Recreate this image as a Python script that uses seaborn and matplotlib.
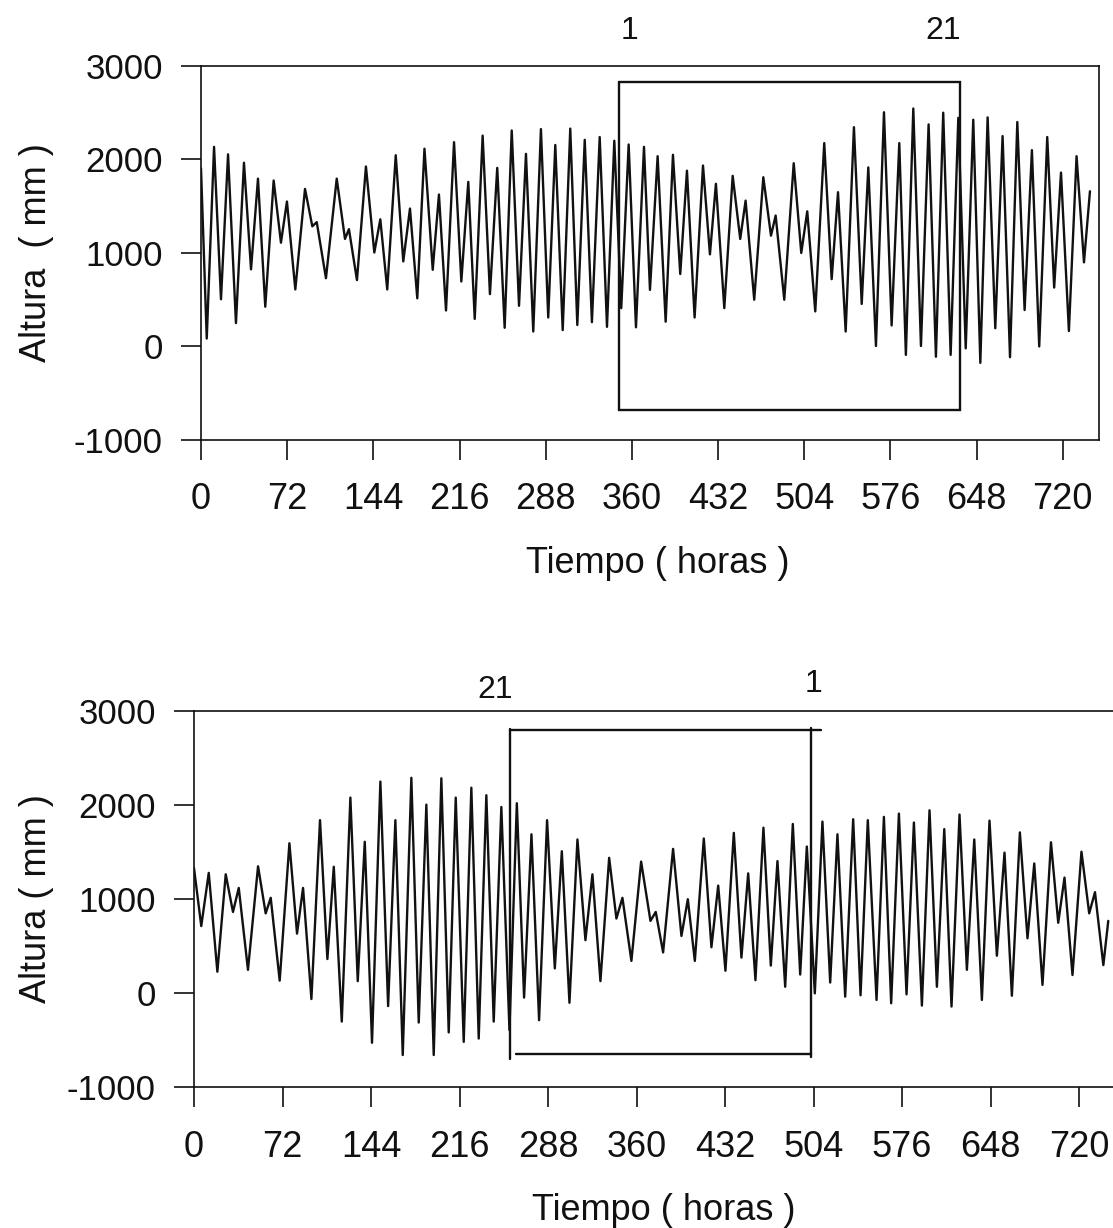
import matplotlib
matplotlib.use("Agg")
import matplotlib.pyplot as plt
import pandas as pd
import seaborn as sns

# ---------------------------------------------------------------------------
# Sea level record, turning points (hour, height in mm)
# ---------------------------------------------------------------------------
hours_a = [0, 4.8, 10.9, 16.7, 22.6, 29.2, 35.9, 41.8, 47.6, 53.7,
           60.7, 66.8, 71.8, 78.8, 86.9, 93.0, 96.7, 104.4, 113.4, 120.3,
           123.6, 130.3, 137.8, 144.8, 149.8, 155.6, 162.7, 169.0, 174.6, 180.7,
           186.7, 193.6, 198.8, 204.7, 211.4, 217.5, 223.3, 228.7, 235.3, 241.4,
           247.5, 253.7, 259.6, 265.7, 271.5, 277.6, 284.0, 290.1, 296.0, 302.2,
           308.5, 314.4, 320.6, 326.6, 333.1, 339.2, 345.3, 351.1, 357.3, 363.4,
           370.1, 375.1, 381.5, 388.2, 394.3, 400.4, 406.0, 412.4, 419.4, 425.2,
           430.2, 437.2, 444.2, 450.5, 455.0, 462.2, 469.8, 476.2, 480.1, 487.3,
           495.2, 501.5, 506.5, 513.2, 520.7, 526.9, 532.2, 538.6, 545.5, 552.0,
           557.5, 563.9, 570.6, 577.0, 583.4, 588.9, 595.1, 601.5, 607.9, 614.0,
           620.1, 626.3, 632.7, 638.9, 645.2, 651.1, 657.2, 663.6, 669.7, 675.9,
           682.0, 688.1, 694.2, 700.3, 707.0, 712.8, 718.5, 725.1, 731.5, 737.7,
           742.7]
height_a = [1900, 80, 2130, 500, 2050, 245, 1960, 820, 1790, 420,
            1770, 1105, 1545, 605, 1680, 1280, 1325, 725, 1790, 1145,
            1250, 705, 1920, 1000, 1355, 605, 2040, 905, 1470, 510,
            2110, 815, 1620, 380, 2180, 690, 1755, 290, 2250, 555,
            1905, 195, 2305, 430, 2055, 155, 2320, 305, 2150, 170,
            2325, 225, 2205, 255, 2235, 205, 2195, 405, 2155, 200,
            2130, 600, 2030, 260, 2045, 770, 1875, 305, 1930, 980,
            1735, 405, 1820, 1145, 1555, 495, 1805, 1180, 1395, 495,
            1955, 995, 1440, 370, 2170, 715, 1645, 155, 2340, 450,
            1910, 0, 2500, 220, 2170, -95, 2540, 0, 2370, -115,
            2495, -95, 2440, -25, 2420, -180, 2445, 190, 2245, -120,
            2395, 385, 2095, -5, 2235, 625, 1855, 160, 2030, 895,
            1655]

hours_b = [0, 5.9, 12.0, 19.0, 25.8, 31.7, 36.4, 43.9, 52.1, 58.3,
           62.4, 69.7, 77.6, 83.8, 88.7, 95.5, 102.5, 108.5, 113.7, 120.2,
           127.2, 133.2, 138.9, 144.8, 151.6, 157.9, 163.8, 169.8, 176.8, 182.8,
           189.0, 195.0, 201.2, 207.2, 212.9, 219.4, 225.6, 231.6, 237.8, 243.8,
           250.0, 256.6, 262.6, 268.5, 274.5, 280.7, 287.2, 293.5, 299.2, 305.4,
           311.9, 318.4, 324.1, 330.6, 337.7, 343.6, 348.5, 355.8, 363.7, 371.3,
           375.6, 381.6, 389.7, 396.5, 401.7, 407.4, 414.7, 420.9, 426.4, 432.3,
           439.1, 445.3, 450.8, 456.7, 463.2, 469.2, 474.6, 480.9, 487.1, 493.1,
           498.5, 505.0, 511.2, 517.5, 523.4, 529.7, 536.2, 542.2, 548.1, 555.2,
           561.2, 567.1, 573.4, 579.6, 585.6, 592.1, 598.3, 604.3, 610.3, 616.2,
           622.7, 628.7, 634.7, 640.9, 647.1, 653.1, 659.3, 665.3, 671.8, 678.0,
           683.5, 690.2, 697.1, 703.0, 708.1, 714.6, 721.9, 728.2, 732.9, 739.7,
           743.7]
height_b = [1330, 715, 1280, 230, 1265, 865, 1120, 250, 1350, 850,
            1015, 135, 1595, 635, 1120, -60, 1840, 365, 1345, -300,
            2080, 130, 1610, -525, 2250, -135, 1840, -655, 2290, -310,
            2005, -655, 2285, -415, 2080, -515, 2185, -480, 2105, -300,
            1980, -390, 2020, -45, 1690, -285, 1840, 265, 1510, -100,
            1635, 565, 1265, 130, 1440, 795, 1015, 345, 1400, 770,
            865, 435, 1535, 610, 1000, 345, 1645, 490, 1145, 240,
            1705, 380, 1275, 140, 1760, 295, 1405, 70, 1800, 200,
            1560, 0, 1825, 115, 1690, -35, 1850, -20, 1840, -70,
            1875, -105, 1910, -10, 1815, -130, 1945, 70, 1745, -140,
            1900, 250, 1635, -70, 1835, 400, 1495, -25, 1710, 585,
            1380, 90, 1605, 750, 1230, 195, 1505, 850, 1075, 300,
            770]

x_ticks = [0, 72, 144, 216, 288, 360, 432, 504, 576, 648, 720]
y_ticks = [-1000, 0, 1000, 2000, 3000]

# Selection windows (hour span, height span) and their day markers
window_a_hours = [349.2, 634.1]
window_a_heights = [-686, 2825]
marks_a_hours = [358.4, 620.2]
marks_a_text = ["1", "21"]

window_b_hours = [257.4, 501.5]
window_b_top_end = 510.0
window_b_bottom_start = 262.0
window_b_heights = [-648, 2797]
window_b_left_span = [-697, 2807]
window_b_right_span = [-673, 2814]
marks_b_hours = [244.9, 503.7]
marks_b_text = ["21", "1"]

# ---------------------------------------------------------------------------
sns.set_style("ticks")
plt.rcParams["font.family"] = ["Liberation Sans", "DejaVu Sans"]
plt.rcParams["axes.linewidth"] = 1.2

INK = "#111111"

fig = plt.figure(figsize=(11.13, 12.28), dpi=100)
ax1 = fig.add_axes([0.18059, 0.64210, 0.80710, 0.30456])
ax2 = fig.add_axes([0.17431, 0.11442, 0.82839, 0.30660])


def draw_panel(ax, hours, heights, xmax, ylabel, xlabel_xy, ylabel_y):
    df = pd.DataFrame({"Tiempo": hours, "Altura": heights})
    sns.lineplot(data=df, x="Tiempo", y="Altura", ax=ax, color=INK,
                 linewidth=1.7, estimator=None, sort=False)
    for line in ax.get_lines():
        line.set_solid_joinstyle("round")
        line.set_solid_capstyle("round")
    ax.set_xlim(0, xmax)
    ax.set_ylim(-1000, 3000)
    ax.set_xticks(x_ticks)
    ax.set_yticks(y_ticks)
    ax.set_xticklabels([str(v) for v in x_ticks])
    ax.set_yticklabels([str(v) for v in y_ticks])
    ax.tick_params(axis="both", direction="out", length=14.4, width=1.2,
                   color=INK, labelcolor=INK)
    ax.tick_params(axis="x", labelsize=26, pad=16)
    ax.tick_params(axis="y", labelsize=25, pad=13)
    for sp in ax.spines.values():
        sp.set_color(INK)
        sp.set_linewidth(1.2)
    ax.set_xlabel("Tiempo ( horas )", fontsize=26, color=INK)
    ax.set_ylabel(ylabel, fontsize=26, color=INK)
    ax.xaxis.label.set_verticalalignment("top")
    ax.xaxis.set_label_coords(*xlabel_xy, transform=fig.transFigure)
    ax.yaxis.set_label_coords(0.0485, ylabel_y, transform=fig.transFigure)


draw_panel(ax1, hours_a, height_a, 750.5, "Altura  ( mm )",
           (0.591, 1 - 546 / 1228), 1 - 252.5 / 1228)
draw_panel(ax2, hours_b, height_b, 750.0, "Altura ( mm )",
           (0.596, 1 - 1193 / 1228), 1 - 899 / 1228)

# Window on the upper record
l, r = window_a_hours
b, t = window_a_heights
ax1.plot([l, r, r, l, l], [t, t, b, b, t], color=INK, linewidth=1.7,
         solid_joinstyle="miter", zorder=3)
for hx, txt in zip(marks_a_hours, marks_a_text):
    ax1.text(hx, 1.072, txt, transform=ax1.get_xaxis_transform(),
             ha="center", va="baseline", fontsize=23, color=INK, clip_on=False)

# Window on the lower record (hand-drawn style segments)
l, r = window_b_hours
b, t = window_b_heights
ax2.plot([l, l], window_b_left_span, color=INK, linewidth=1.7, zorder=3)
ax2.plot([l, window_b_top_end], [t, t], color=INK, linewidth=1.7, zorder=3)
ax2.plot([r, r], window_b_right_span, color=INK, linewidth=1.7, zorder=3)
ax2.plot([window_b_bottom_start, r], [b, b], color=INK, linewidth=1.7, zorder=3)
for hx, txt, yy in zip(marks_b_hours, marks_b_text, [1.035, 1.051]):
    ax2.text(hx, yy, txt, transform=ax2.get_xaxis_transform(),
             ha="center", va="baseline", fontsize=23, color=INK, clip_on=False)

fig.savefig("out.png", dpi=100, facecolor="white")
